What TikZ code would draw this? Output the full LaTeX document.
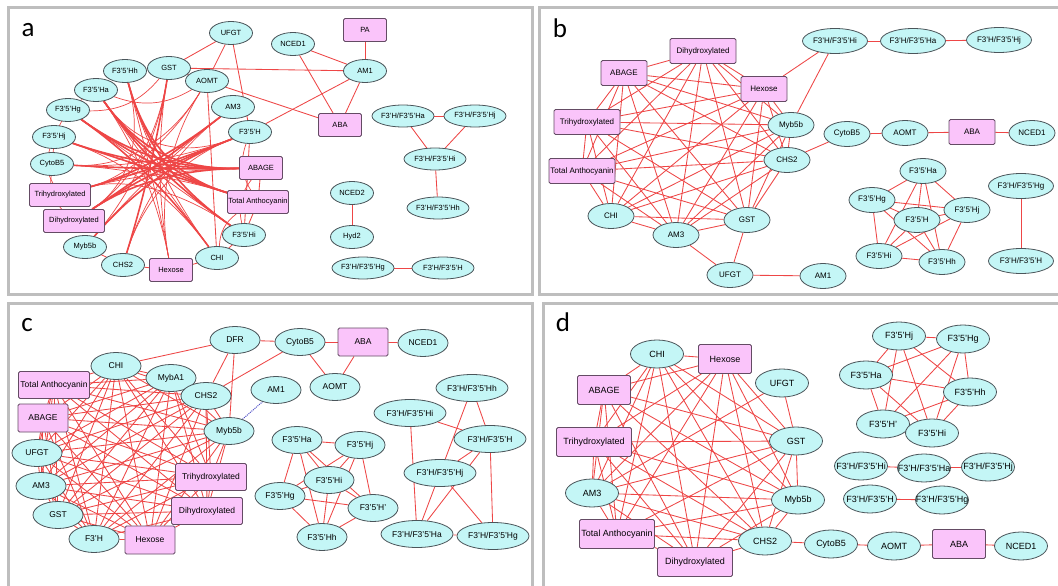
\documentclass[tikz,border=0pt]{standalone}
\usepackage{fontspec}
\setmainfont{Liberation Sans}
\newfontfamily\lblfont{Carlito}
\usetikzlibrary{shapes.geometric,backgrounds,calc}
\definecolor{ecol}{RGB}{238,70,70}
\definecolor{efill}{RGB}{196,246,246}
\definecolor{eline}{RGB}{75,85,90}
\definecolor{bfill}{RGB}{250,196,250}
\definecolor{bline}{RGB}{100,75,100}
\definecolor{frm}{RGB}{190,190,190}
\definecolor{dashb}{RGB}{80,80,200}
\newcommand\ZT[1]{\makebox[0pt]{#1}}
\newcommand\KGraphX[1]{%
  \foreach \ka [count=\ki] in #1 {%
    \foreach \kb [count=\kj] in #1 {%
      \ifnum\ki<\kj \draw[lnk] (\ka) -- (\kb);\fi
    }%
  }%
}
\tikzset{
  ell/.style 2 args={ellipse, draw=eline, fill=efill, line width=0.8pt,
    minimum width=#1, minimum height=#2, inner sep=0pt},
  rbox/.style 2 args={rectangle, rounded corners=1.5pt, draw=bline, fill=bfill,
    line width=0.8pt, minimum width=#1, minimum height=#2, inner sep=0pt},
  fa/.style={font=\fontsize{7.5}{8}\selectfont},
  fb/.style={font=\fontsize{8}{9}\selectfont},
  fc/.style={font=\fontsize{8.5}{9}\selectfont},
  fd/.style={font=\fontsize{9}{10}\selectfont},
  ea/.style={ell={43pt}{23pt}, fa},
  eaw/.style={ell={62pt}{22pt}, fa},
  ba/.style={rbox={61pt}{23pt}, fa},
  bas/.style={rbox={43pt}{23pt}, fa},
  eb/.style={ell={46pt}{25pt}, fb},
  ebw/.style={ell={65pt}{25pt}, fb},
  bb/.style={rbox={66pt}{25pt}, fb},
  bbs/.style={rbox={46pt}{25pt}, fb},
  ec/.style={ell={50pt}{27pt}, fc},
  ecw/.style={ell={72pt}{27pt}, fc},
  bc/.style={rbox={71pt}{27pt}, fc},
  bcs/.style={rbox={50pt}{28pt}, fc},
  ed/.style={ell={53pt}{28pt}, fd},
  bd/.style={rbox={75pt}{29pt}, fd},
  bds/.style={rbox={53pt}{29pt}, fd},
  lnk/.style={draw=ecol, line width=0.85pt},
  bthick/.style={draw=ecol, line width=1.6pt},
  bthin/.style={draw=ecol, line width=0.7pt},
  pframe/.style={draw=frm, line width=3pt},
  plabel/.style={font=\lblfont\fontsize{27}{30}\selectfont, inner sep=0pt},
}
\begin{document}
\begin{tikzpicture}[x=1pt,y=-1pt]
\useasboundingbox (0,0) rectangle (1058,586);
\clip (0,0) rectangle (1058,586);

% ---------------- panel a ----------------
\node[plabel] (la) at (28,30) {a};
\node[ea] (aUFGT) at (231,33) {\ZT{UFGT}};
\node[ea] (aGST) at (169,68) {\ZT{GST}};
\node[ea] (aHh) at (125,71) {\ZT{F3'5'Hh}};
\node[ea] (aHa) at (96,90) {\ZT{F3'5'Ha}};
\node[ea] (aAOMT) at (207,81) {\ZT{AOMT}};
\node[ea] (aAM3) at (233,107) {\ZT{AM3}};
\node[ea] (aHg) at (68,110) {\ZT{F3'5'Hg}};
\node[ea] (aHj) at (54,137) {\ZT{F3'5'Hj}};
\node[ea] (aH) at (250,132) {\ZT{F3'5'H}};
\node[ea] (aCyto) at (52,164) {\ZT{CytoB5}};
\node[bas] (aABAGE) at (261,168) {\ZT{ABAGE}};
\node[ba] (aTri) at (60,195) {\ZT{Trihydroxylated}};
\node[ba] (aTA) at (258,202) {\ZT{Total Anthocyanin}};
\node[ba] (aDi) at (74,221) {\ZT{Dihydroxylated}};
\node[ea] (aHi) at (244,235) {\ZT{F3'5'Hi}};
\node[ea] (aMyb) at (85,247) {\ZT{Myb5b}};
\node[ea] (aCHS) at (123,265) {\ZT{CHS2}};
\node[bas] (aHex) at (171,270) {\ZT{Hexose}};
\node[ea] (aCHI) at (217,258) {\ZT{CHI}};
\node[bas] (aPA) at (365,30) {\ZT{PA}};
\node[ea] (aNCED1) at (293,44) {\ZT{NCED1}};
\node[ea] (aAM1) at (365,71) {\ZT{AM1}};
\node[bas] (aABA) at (340,125) {\ZT{ABA}};
\node[eaw] (aFHa) at (403,116) {\ZT{F3'H/F3'5'Ha}};
\node[eaw] (aFHj) at (475,116) {\ZT{F3'H/F3'5'Hj}};
\node[eaw] (aFHi) at (435,159) {\ZT{F3'H/F3'5'Hi}};
\node[eaw] (aFHh) at (438,208) {\ZT{F3'H/F3'5'Hh}};
\node[ea] (aNCED2) at (352,193) {\ZT{NCED2}};
\node[ea] (aHyd2) at (352,237) {\ZT{Hyd2}};
\node[eaw] (aFHg) at (363,268) {\ZT{F3'H/F3'5'Hg}};
\node[eaw] (aFH) at (443,268) {\ZT{F3'H/F3'5'H}};
\coordinate (ca) at (152,170);

% ---------------- panel b ----------------
\node[plabel] (lb) at (560,28) {b};
\node[bb] (bDi) at (703,51) {\ZT{Dihydroxylated}};
\node[bbs] (bAB) at (624,73) {\ZT{ABAGE}};
\node[bbs] (bHex) at (764,89) {\ZT{Hexose}};
\node[bb] (bTri) at (587,122) {\ZT{Trihydroxylated}};
\node[eb] (bMyb) at (791,125) {\ZT{Myb5b}};
\node[eb] (bCHS) at (787,160) {\ZT{CHS2}};
\node[bb] (bTA) at (582,171) {\ZT{Total Anthocyanin}};
\node[eb] (bCHI) at (611,216) {\ZT{CHI}};
\node[eb] (bGST) at (747,220) {\ZT{GST}};
\node[eb] (bAM3) at (676,235) {\ZT{AM3}};
\node[eb] (bUFGT) at (730,275) {\ZT{UFGT}};
\node[eb] (bAM1) at (823,276) {\ZT{AM1}};
\node[ebw] (bFHi) at (835,41) {\ZT{F3'H/F3'5'Hi}};
\node[ebw] (bFHa) at (913,41) {\ZT{F3'H/F3'5'Ha}};
\node[ebw] (bFHj) at (999,40) {\ZT{F3'H/F3'5'Hj}};
\node[eb] (bCyto) at (847,134) {\ZT{CytoB5}};
\node[eb] (bAOMT) at (905,133) {\ZT{AOMT}};
\node[bbs] (bABA) at (972,132) {\ZT{ABA}};
\node[eb] (bNCED1) at (1032,133) {\ZT{NCED1}};
\node[eb] (b5Ha) at (923,171) {\ZT{F3'5'Ha}};
\node[eb] (b5Hg) at (872,200) {\ZT{F3'5'Hg}};
\node[eb] (b5Hj) at (967,210) {\ZT{F3'5'Hj}};
\node[eb] (b5Hi) at (879,256) {\ZT{F3'5'Hi}};
\node[eb] (b5Hh) at (942,262) {\ZT{F3'5'Hh}};
\node[eb] (b5H) at (917,220) {\ZT{F3'5'H}};
\node[ebw] (bFHg) at (1021,186) {\ZT{F3'H/F3'5'Hg}};
\node[ebw] (bFH) at (1021,261) {\ZT{F3'H/F3'5'H}};

% ---------------- panel c ----------------
\node[plabel] (lc) at (27,325) {c};
\node[ec] (cDFR) at (235,340) {\ZT{DFR}};
\node[ec] (cCHI) at (116,366) {\ZT{CHI}};
\node[ec] (cMybA1) at (171,378) {\ZT{MybA1}};
\node[ec] (cCHS) at (206,396) {\ZT{CHS2}};
\node[bc] (cTA) at (54,385) {\ZT{Total Anthocyanin}};
\node[bcs] (cAB) at (43,418) {\ZT{ABAGE}};
\node[ec] (cMyb) at (229,431) {\ZT{Myb5b}};
\node[ec] (cUFGT) at (37,453) {\ZT{UFGT}};
\node[bc] (cTri) at (211,477) {\ZT{Trihydroxylated}};
\node[ec] (cAM3) at (41,486) {\ZT{AM3}};
\node[bc] (cDi) at (207,511) {\ZT{Dihydroxylated}};
\node[ec] (cGST) at (58,515) {\ZT{GST}};
\node[ec] (cF3H) at (94,539) {\ZT{F3'H}};
\node[bcs] (cHex) at (150,540) {\ZT{Hexose}};
\node[ec] (cCyto) at (300,342) {\ZT{CytoB5}};
\node[bcs] (cABA) at (363,342) {\ZT{ABA}};
\node[ec] (cNCED1) at (423,343) {\ZT{NCED1}};
\node[ec] (cAM1) at (276,390) {\ZT{AM1}};
\node[ec] (cAOMT) at (335,387) {\ZT{AOMT}};
\node[ecw] (cFHh) at (472,388) {\ZT{F3'H/F3'5'Hh}};
\node[ecw] (cFHi) at (410,413) {\ZT{F3'H/F3'5'Hi}};
\node[ecw] (cFH) at (490,439) {\ZT{F3'H/F3'5'H}};
\node[ecw] (cFHj) at (440,473) {\ZT{F3'H/F3'5'Hj}};
\node[ecw] (cFHa) at (417,534) {\ZT{F3'H/F3'5'Ha}};
\node[ecw] (cFHg) at (493,536) {\ZT{F3'H/F3'5'Hg}};
\node[ec] (c5Ha) at (297,440) {\ZT{F3'5'Ha}};
\node[ec] (c5Hj) at (360,445) {\ZT{F3'5'Hj}};
\node[ec] (c5Hi) at (329,480) {\ZT{F3'5'Hi}};
\node[ec] (c5Hg) at (280,496) {\ZT{F3'5'Hg}};
\node[ec] (c5Hp) at (373,508) {\ZT{F3'5'H'}};
\node[ec] (c5Hh) at (322,537) {\ZT{F3'5'Hh}};

% ---------------- panel d ----------------
\node[plabel] (ld) at (563,322) {d};
\node[ed] (dCHI) at (657,354) {\ZT{CHI}};
\node[bds] (dHex) at (725,359) {\ZT{Hexose}};
\node[bds] (dAB) at (604,390) {\ZT{ABAGE}};
\node[ed] (dUFGT) at (782,383) {\ZT{UFGT}};
\node[bd] (dTri) at (594,442) {\ZT{Trihydroxylated}};
\node[ed] (dGST) at (796,441) {\ZT{GST}};
\node[ed] (dAM3) at (592,493) {\ZT{AM3}};
\node[ed] (dMyb) at (798,500) {\ZT{Myb5b}};
\node[bd] (dTA) at (617,534) {\ZT{Total Anthocyanin}};
\node[ed] (dCHS) at (765,541) {\ZT{CHS2}};
\node[bd] (dDi) at (695,562) {\ZT{Dihydroxylated}};
\node[ed] (d5Hj) at (899,336) {\ZT{F3'5'Hj}};
\node[ed] (d5Hg) at (963,339) {\ZT{F3'5'Hg}};
\node[ed] (d5Ha) at (866,375) {\ZT{F3'5'Ha}};
\node[ed] (d5Hh) at (970,392) {\ZT{F3'5'Hh}};
\node[ed] (d5Hp) at (883,424) {\ZT{F3'5'H'}};
\node[ed] (d5Hi) at (932,433) {\ZT{F3'5'Hi}};
\node[ed] (dFHi) at (861,466) {\ZT{F3'H/F3'5'Hi}};
\node[ed] (dFHa) at (924,468) {\ZT{F3'H/F3'5'Ha}};
\node[ed] (dFHj) at (988,467) {\ZT{F3'H/F3'5'Hj}};
\node[ed] (dFH) at (870,499) {\ZT{F3'H/F3'5'H}};
\node[ed] (dFHg) at (942,500) {\ZT{F3'H/F3'5'Hg}};
\node[ed] (dCyto) at (831,544) {\ZT{CytoB5}};
\node[ed] (dAOMT) at (894,546) {\ZT{AOMT}};
\node[bds] (dABA) at (959,544) {\ZT{ABA}};
\node[ed] (dNCED1) at (1021,546) {\ZT{NCED1}};

\begin{scope}[on background layer]
\fill[white] (0,0) rectangle (1058,586);
% frames
\draw[pframe] (8,8) rectangle (532,294);
\draw[pframe] (539,8) rectangle (1070,294);
\draw[pframe] (8,303) rectangle (532,600);
\draw[pframe] (543,303) rectangle (1070,600);

% ----- panel a bundled edges -----
\foreach \u/\v in {aHa/aABAGE,aHa/aTA,aHa/aHi,aHg/aABAGE,aHg/aTA,aHg/aCHI,
  aHh/aTA,aHh/aHi,aHj/aABAGE,aHj/aTA,aCyto/aABAGE,aTri/aH,aTri/aAM3,
  aDi/aH,aDi/aABAGE,aDi/aAM3,aCHS/aGST,aMyb/aH}
  \draw[bthick] (\u) .. controls ($(\u)!0.75!(ca)$) and ($(\v)!0.75!(ca)$) .. (\v);
\foreach \u/\v in {aGST/aHex,aGST/aDi,aAM3/aCHS,aAOMT/aTri,aHh/aCHI,aCyto/aTA,
  aTri/aHi,aHex/aHh,aCHI/aHa,aAOMT/aCyto,aH/aCyto,aGST/aMyb,aHj/aCHI,aAM3/aMyb,
  aTri/aABAGE,aHg/aHi,aHex/aAOMT,aHex/aHa,aCHS/aH,aHh/aDi,aHa/aH}
  \draw[bthin] (\u) .. controls ($(\u)!0.7!(ca)$) and ($(\v)!0.7!(ca)$) .. (\v);
\foreach \u/\v in {aHa/aAOMT,aHg/aGST,aHj/aTri,aHa/aCyto,aCyto/aDi,aH/aTA,aABAGE/aHi,aTA/aCHI}
  \draw[bthin] (\u) to[bend right=25] (\v);
\foreach \u/\v in {aUFGT/aGST,aUFGT/aAOMT,aUFGT/aH,aGST/aAOMT,aGST/aHh,aAOMT/aCHI,
  aH/aHi,aABAGE/aTA,aTA/aHi,aHi/aCHI,aCHI/aHex,aHex/aCHS,aCHS/aMyb,
  aGST/aAM1,aAOMT/aABA,aAM1/aH,aPA/aAM1,aNCED1/aAM1,aNCED1/aABA,aAM1/aABA,
  aFHa/aFHj,aFHa/aFHi,aFHj/aFHi,aFHi/aFHh,aNCED2/aHyd2,aFHg/aFH}
  \draw[lnk] (\u) -- (\v);

% ----- panel b edges -----
\def\bbig{bDi,bAB,bHex,bTri,bMyb,bCHS,bTA,bCHI,bGST,bAM3}
\KGraphX{\bbig}
\def\bfive{b5Ha,b5Hg,b5Hj,b5H,b5Hi,b5Hh}
\KGraphX{\bfive}
\foreach \u/\v in {bHex/bFHi,bMyb/bFHi,bFHi/bFHa,bFHa/bFHj,bCHS/bCyto,bCyto/bAOMT,
  bAOMT/bABA,bABA/bNCED1,bUFGT/bAM1,bUFGT/bGST,bUFGT/bAM3,bFHg/bFH}
  \draw[lnk] (\u) -- (\v);

% ----- panel c edges -----
\def\cbig{cCHI,cMybA1,cCHS,cTA,cAB,cMyb,cUFGT,cTri,cAM3,cDi,cGST,cF3H,cHex}
\KGraphX{\cbig}
\def\cfive{c5Ha,c5Hj,c5Hi,c5Hg,c5Hp,c5Hh}
\KGraphX{\cfive}
\foreach \u/\v in {cDFR/cCyto,cDFR/cCHI,cDFR/cCHS,cDFR/cMyb,cCyto/cCHS,cCyto/cABA,
  cABA/cNCED1,cCyto/cAOMT,cABA/cAOMT,
  cFHh/cFH,cFHh/cFHj,cFHi/cFH,cFHi/cFHa,cFH/cFHj,cFH/cFHg,cFHj/cFHa,cFHj/cFHg,
  cFHa/cFHg,cFH/cFHa}
  \draw[lnk] (\u) -- (\v);
\draw[dashb, densely dotted, line width=1pt] (cMyb) -- (cAM1);

% ----- panel d edges -----
\def\dbig{dCHI,dHex,dAB,dTri,dGST,dAM3,dMyb,dTA,dCHS,dDi}
\KGraphX{\dbig}
\def\dfive{d5Hj,d5Hg,d5Ha,d5Hh,d5Hp,d5Hi}
\KGraphX{\dfive}
\foreach \u/\v in {dUFGT/dGST,dUFGT/dAM3,dCHS/dCyto,dCyto/dAOMT,dAOMT/dABA,
  dABA/dNCED1,dFHi/dFHa,dFHa/dFHj,dFH/dFHg}
  \draw[lnk] (\u) -- (\v);
\end{scope}
\end{tikzpicture}
\end{document}
